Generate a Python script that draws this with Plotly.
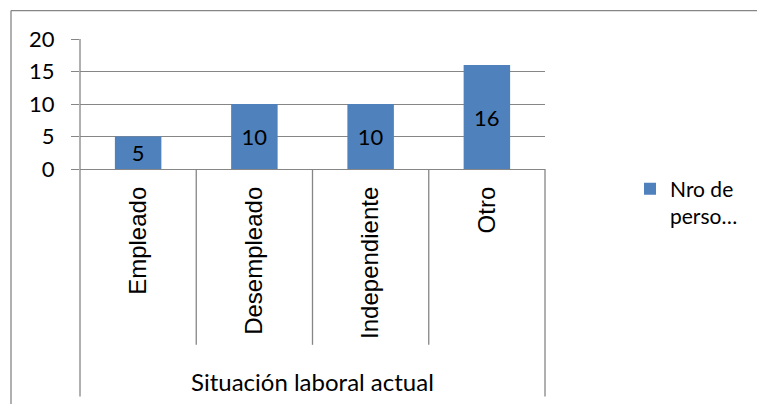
import plotly.graph_objects as go

categories = ["Empleado", "Desempleado", "Independiente", "Otro"]
values = [5, 10, 10, 16]
series_name = "Nro de<br>perso…"
axis_title = "Situación laboral actual"
y_ticks = [0, 5, 10, 15, 20]

GRAY = "#868686"
BLUE = "#4F81BD"
CAL = "Lato, Liberation Sans, sans-serif"
ARI = "Liberation Sans, Arial, sans-serif"

fig = go.Figure()
fig.add_trace(go.Bar(
    x=categories, y=values, name=series_name,
    marker=dict(color=BLUE, line=dict(width=0)),
    text=[str(v) for v in values], textposition="inside",
    insidetextanchor="middle", constraintext="none", textangle=0,
    textfont=dict(family=CAL, size=22, color="#000000"),
    showlegend=True,
))

# geometry in paper units (plot area: x 80..545 px, y 39..169.5 px)
H = 130.5
W = 465.0
def py(pix):
    return (169.5 - pix) / H
def px(pix):
    return (pix - 80) / W

shapes = []
# chart outer border (clipped at right/bottom)
shapes.append(dict(type="line", xref="paper", yref="paper",
                   x0=px(11), x1=px(800), y0=py(10.5), y1=py(10.5),
                   line=dict(color=GRAY, width=1.3)))
shapes.append(dict(type="line", xref="paper", yref="paper",
                   x0=px(11), x1=px(11), y0=py(10.5), y1=py(450),
                   line=dict(color=GRAY, width=1.3)))
# left axis line extended
shapes.append(dict(type="line", xref="paper", yref="paper",
                   x0=0, x1=0, y0=py(39), y1=py(398),
                   line=dict(color=GRAY, width=1.3)))
# right line below axis
shapes.append(dict(type="line", xref="paper", yref="paper",
                   x0=1, x1=1, y0=0, y1=py(398),
                   line=dict(color=GRAY, width=1.3)))
# category dividers
for i in range(1, len(categories)):
    shapes.append(dict(type="line", xref="x", yref="paper",
                       x0=i - 0.5, x1=i - 0.5, y0=0, y1=py(346),
                       line=dict(color=GRAY, width=1.3)))

fig.update_layout(
    width=757, height=404,
    margin=dict(l=80, r=212, t=39, b=234.5, autoexpand=False),
    paper_bgcolor="white", plot_bgcolor="white",
    bargap=0.6,
    shapes=shapes,
    xaxis=dict(
        type="category", range=[-0.5, 3.5], automargin=False,
        tickangle=-90, tickfont=dict(family=ARI, size=24, color="#000000"),
        showgrid=False, showline=True, linecolor=GRAY, linewidth=1.3,
        ticks="", zeroline=False, ticklabelstandoff=7,
    ),
    yaxis=dict(
        range=[0, 20], tickvals=y_ticks, ticktext=[str(t) for t in y_ticks],
        automargin=False,
        tickfont=dict(family=CAL, size=22, color="#000000"),
        showgrid=True, gridcolor=GRAY, gridwidth=1.3,
        ticks="outside", ticklen=8, tickcolor=GRAY, tickwidth=1.3,
        showline=False, zeroline=False, ticklabelstandoff=12,
    ),
    legend=dict(
        x=px(630), y=py(169), xanchor="left", yanchor="top",
        font=dict(family=CAL, size=21, color="#000000"),
        valign="top", bgcolor="rgba(0,0,0,0)", itemwidth=30,
    ),
    annotations=[dict(
        text=axis_title, xref="paper", yref="paper",
        x=0.5, y=py(383), xanchor="center", yanchor="middle",
        showarrow=False, font=dict(family=CAL, size=24, color="#000000"),
    )],
)

fig.write_html("out.html", config={"displayModeBar": False},
               post_script="document.body.style.margin='0';document.body.style.overflow='hidden';")
